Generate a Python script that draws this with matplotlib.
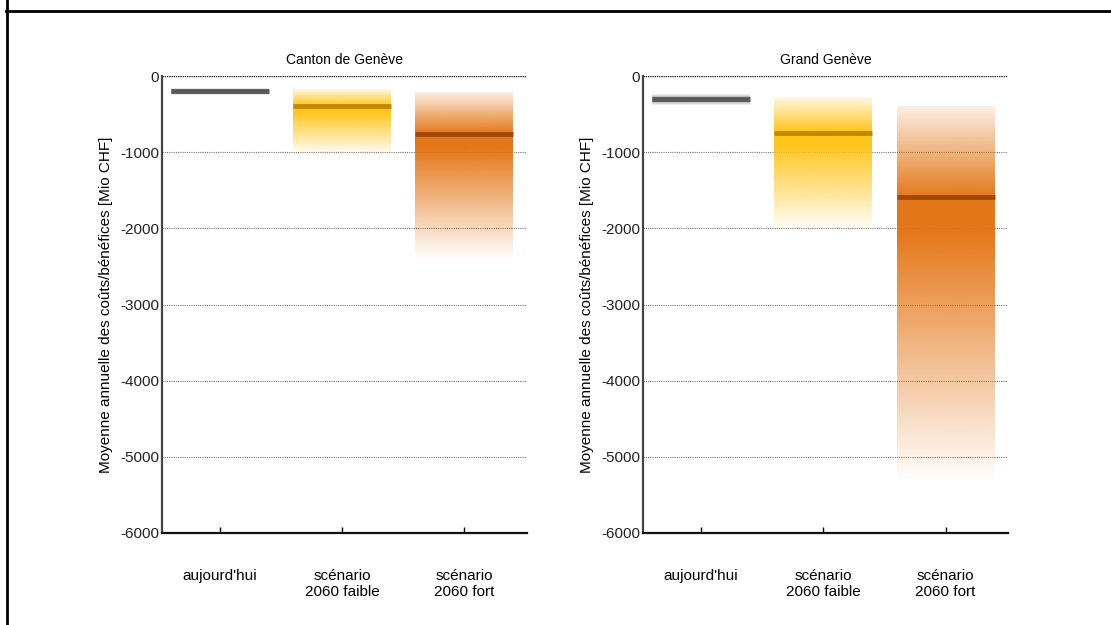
import numpy as np
import matplotlib
matplotlib.use("Agg")
import matplotlib.pyplot as plt
from matplotlib.lines import Line2D
from matplotlib.colors import to_rgb

plt.rcParams['font.family'] = ['Liberation Sans', 'DejaVu Sans']

categories = ["aujourd'hui", "scénario\n2060 faible", "scénario\n2060 fort"]
panel_titles = ["Canton de Genève", "Grand Genève"]
ylabel = "Moyenne annuelle des coûts/bénéfices [Mio CHF]"

# median, upper end of the band, lower end of the band
geneve_median = [-200, -400, -760]
geneve_high = [-155, -185, -225]
geneve_low = [-245, -1040, -2420]
grand_median = [-300, -745, -1590]
grand_high = [-235, -290, -400]
grand_low = [-375, -2050, -5340]

yticks = [0, -1000, -2000, -3000, -4000, -5000, -6000]

band_colors = ["#7a7a7a", "#ffc20e", "#e3700d"]
line_colors = ["#5a5a5a", "#bf8a00", "#a4480a"]


def band_alpha(y, high, med, low):
    a = np.zeros_like(y)
    up = (y >= med)
    a[up] = 0.12 + 0.88 * ((high - y[up]) / (high - med))
    hold = med - 0.12 * (med - low)
    mid = (y < med) & (y >= hold)
    a[mid] = 1.0
    dn = y < hold
    a[dn] = (y[dn] - low) / (hold - low)
    return np.clip(a, 0, 1)


def draw_panel(ax, title, med, high, low):
    x = np.arange(len(categories))
    for i in range(len(categories)):
        ys = np.linspace(high[i], low[i], 300)
        rgb = to_rgb(band_colors[i])
        if i == 0:
            c = (high[i] + low[i]) / 2
            s = (high[i] - low[i]) / 3.0
            alpha = np.exp(-((ys - c) / s) ** 2) * 0.9
        else:
            alpha = band_alpha(ys, high[i], med[i], low[i]) * 0.95
        img = np.zeros((len(ys), 1, 4))
        img[:, 0, :3] = rgb
        img[:, 0, 3] = alpha
        ax.imshow(img, extent=[x[i] - 0.4, x[i] + 0.4, low[i], high[i]],
                  aspect='auto', interpolation='bilinear', zorder=2)
        ax.hlines(med[i], x[i] - 0.4, x[i] + 0.4, color=line_colors[i],
                  lw=3.5, zorder=3)

    ax.set_xlim(-0.47, 2.51)
    ax.set_ylim(-6000, 0)
    ax.set_yticks(yticks)
    ax.set_yticklabels([str(v) for v in yticks], fontsize=11)
    ax.set_xticks(x)
    ax.set_xticklabels(categories, fontsize=11)
    ax.tick_params(axis='x', direction='in', length=4, pad=26, width=1)
    ax.tick_params(axis='y', length=0, pad=2, colors='#222222')
    for v in yticks[1:-1]:
        ax.axhline(v, color='#777777', lw=0.8, ls=(0, (1, 1)), zorder=1)
    ax.axhline(0, color='#222222', lw=1.0, ls=(0, (1, 0.6)), zorder=1)
    ax.spines['top'].set_visible(False)
    ax.spines['right'].set_visible(False)
    ax.spines['left'].set_color('#444444')
    ax.spines['left'].set_linewidth(1.6)
    ax.spines['bottom'].set_color('#111111')
    ax.spines['bottom'].set_linewidth(1.6)
    ax.set_title(title, fontsize=10, pad=9)
    ax.set_ylabel(ylabel, fontsize=11, labelpad=5)


fig = plt.figure(figsize=(11.11, 6.25), dpi=100)
ax1 = fig.add_axes([0.1458, 0.1472, 0.3285, 0.7312])
ax2 = fig.add_axes([0.5788, 0.1472, 0.3285, 0.7312])
draw_panel(ax1, panel_titles[0], geneve_median, geneve_high, geneve_low)
draw_panel(ax2, panel_titles[1], grand_median, grand_high, grand_low)

# frame lines of the page box
fig.add_artist(Line2D([0.005, 1.0], [1 - 11 / 625, 1 - 11 / 625],
                      color='black', lw=2, transform=fig.transFigure))
fig.add_artist(Line2D([6.5 / 1111, 6.5 / 1111], [0, 1], color='black', lw=2,
                      transform=fig.transFigure))

fig.savefig("out.png", dpi=100)
